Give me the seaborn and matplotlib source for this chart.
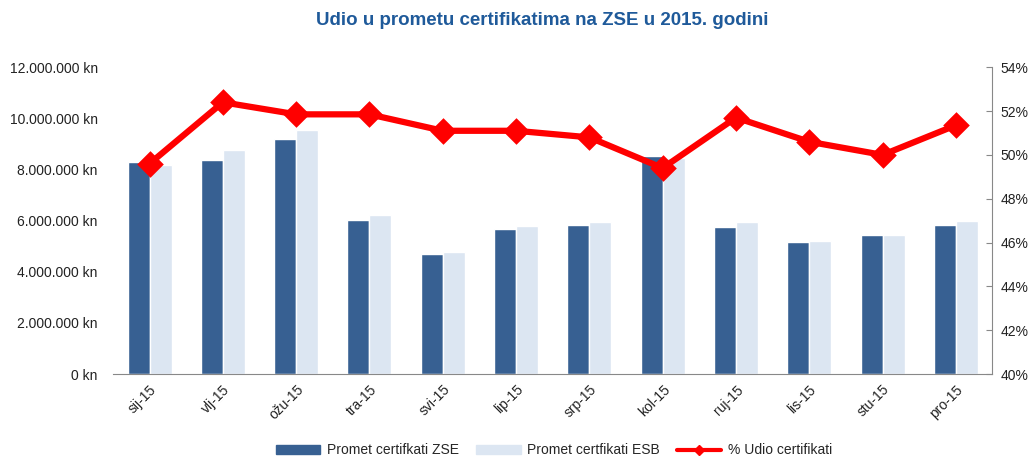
import matplotlib.pyplot as plt
import matplotlib.ticker as mtick
from matplotlib.lines import Line2D
from matplotlib.patches import Patch
import pandas as pd
import seaborn as sns

mjeseci = ["sij-15", "vlj-15", "ožu-15", "tra-15", "svi-15", "lip-15",
           "srp-15", "kol-15", "ruj-15", "lis-15", "stu-15", "pro-15"]
promet_zse = [8290000, 8360000, 9190000, 6020000, 4690000, 5670000,
              5820000, 8520000, 5750000, 5160000, 5430000, 5820000]
promet_esb = [8170000, 8760000, 9540000, 6210000, 4770000, 5790000,
              5940000, 8440000, 5940000, 5200000, 5430000, 5980000]
udio_pct = [49.6, 52.4, 51.85, 51.85, 51.1, 51.1,
            50.8, 49.4, 51.7, 50.6, 50.0, 51.35]

boja_zse = "#376092"
boja_esb = "#DCE6F2"
boja_udio = "#FF0000"

sns.set_style("white")
plt.rcParams["font.family"] = ["Liberation Sans", "DejaVu Sans"]

df = pd.DataFrame({
    "mjesec": mjeseci * 2,
    "promet": promet_zse + promet_esb,
    "serija": ["Promet certifkati ZSE"] * 12 + ["Promet certfikati ESB"] * 12,
})

fig = plt.figure(figsize=(10.36, 4.70), dpi=100)
ax = fig.add_axes([0.109, 0.204, 0.849, 0.653])

sns.barplot(data=df, x="mjesec", y="promet", hue="serija", ax=ax,
            palette=[boja_zse, boja_esb], width=0.6, gap=0,
            saturation=1, legend=False)
ax.set_ylim(0, 12000000)
ax.set_yticks(range(0, 12000001, 2000000))
ax.yaxis.set_major_formatter(
    mtick.FuncFormatter(lambda v, p: f"{int(v):,} kn".replace(",", ".")))
ax.set_xlabel("")
ax.set_ylabel("")
ax.tick_params(axis="y", length=0, labelsize=10, colors="#222222", pad=11)
ax.tick_params(axis="x", length=0, labelsize=10, colors="#222222", pad=6)
plt.setp(ax.get_xticklabels(), rotation=45, ha="right", rotation_mode="anchor")
for s in ["top", "right", "left"]:
    ax.spines[s].set_visible(False)
ax.spines["bottom"].set_color("#888888")

ax2 = ax.twinx()
sns.pointplot(x=mjeseci, y=udio_pct, ax=ax2, color=boja_udio, markers="D",
              markersize=10, linewidth=4.5)
ax2.set_ylim(40, 54)
ax2.set_yticks(range(40, 55, 2))
ax2.yaxis.set_major_formatter(mtick.FuncFormatter(lambda v, p: f"{int(v)}%"))
ax2.tick_params(axis="y", direction="in", length=4, color="#888888",
                labelsize=10, colors="#222222", pad=6)
for s in ["top", "left", "bottom"]:
    ax2.spines[s].set_visible(False)
ax2.spines["right"].set_color("#888888")
ax2.set_xlim(-0.5, 11.5)
ax.set_xlim(-0.5, 11.5)

fig.suptitle("Udio u prometu certifikatima na ZSE u 2015. godini",
             x=0.523, y=0.975, fontsize=13.5, fontweight="bold", color="#1F5A9A")

ruke = [Patch(color=boja_zse, label="Promet certifkati ZSE"),
        Patch(color=boja_esb, label="Promet certfikati ESB"),
        Line2D([0], [0], color=boja_udio, lw=3, marker="D", markersize=5,
               label="% Udio certifikati")]
fig.legend(handles=ruke, loc="lower center", bbox_to_anchor=(0.535, 0.0),
           ncol=3, frameon=False, fontsize=10, handlelength=3.2,
           handleheight=0.6, handletextpad=0.5, columnspacing=1.2)

fig.savefig("out.png", dpi=100)
